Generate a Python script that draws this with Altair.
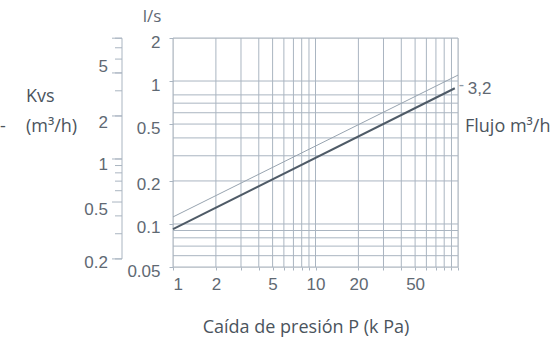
import altair as alt
import pandas as pd

# ---- data ----
thin_pressure = [1, 100]
thin_flow = [0.112, 1.10]
thick_pressure = [1, 95]
thick_flow = [0.092, 0.89]
thick_label = ["3,2"]

x_grid = [1, 2, 3, 4, 5, 6, 7, 8, 9, 10, 20, 30, 40, 50, 60, 70, 80, 90, 100]
x_label_values = [1, 2, 5, 10, 20, 50]
y_grid = [0.05, 0.06, 0.07, 0.08, 0.09, 0.1, 0.2, 0.3, 0.4, 0.5, 0.6, 0.7, 0.8, 1, 2]
y_label_values = [0.05, 0.1, 0.2, 0.5, 1, 2]
kvs_ticks = [0.2, 0.3, 0.4, 0.6, 0.7, 0.8, 0.9, 1, 2, 3, 4, 5, 6, 7]
kvs_major = [0.2, 0.5, 1, 2, 4, 7]
kvs_label_pos = [4.4, 1.8, 0.91, 0.44, 0.187]
kvs_label_text = ["5", "2", "1", "0.5", "0.2"]
kvs_in_ls = 0.2848  # l/s on the main scale that lines up with Kvs = 1

W, H = 285, 229
GRID = "#aab5c1"
NUM = "#5f6973"
WORD = "#4b545d"
NUMFONT = "Liberation Sans"
WORDFONT = "Open Sans"
NUMSIZE = 17
WORDSIZE = 18

xs = alt.Scale(type="log", domain=[1, 100], nice=False)
ys = alt.Scale(type="log", domain=[0.05, 2], nice=False)

x_axis = alt.Axis(
    values=x_grid, title=None, grid=False, domain=False,
    tickSize=3, tickColor=GRID, labelPadding=6,
    labelExpr="indexof(" + str(x_label_values) + ", datum.value) >= 0 ? '' + datum.value : ''",
    labelFont=NUMFONT, labelFontSize=NUMSIZE, labelColor=NUM,
)
y_axis = alt.Axis(
    values=y_label_values, title=None, grid=False, domain=False,
    tickSize=4, tickColor=GRID, labelPadding=9, labelOffset=4,
    labelExpr="'' + datum.value",
    labelFont=NUMFONT, labelFontSize=NUMSIZE, labelColor=NUM,
)

vgrid = alt.Chart(pd.DataFrame({"p": x_grid})).mark_rule(color=GRID, strokeWidth=1).encode(
    x=alt.X("p:Q", scale=xs, axis=x_axis)
)
hgrid = alt.Chart(pd.DataFrame({"q": y_grid})).mark_rule(color=GRID, strokeWidth=1).encode(
    y=alt.Y("q:Q", scale=ys, axis=y_axis)
)

thin = alt.Chart(pd.DataFrame({"p": thin_pressure, "q": thin_flow})).mark_line(
    color="#97a3af", strokeWidth=1
).encode(x=alt.X("p:Q", scale=xs), y=alt.Y("q:Q", scale=ys))

thick = alt.Chart(pd.DataFrame({"p": thick_pressure, "q": thick_flow})).mark_line(
    color="#4f5b67", strokeWidth=2
).encode(x=alt.X("p:Q", scale=xs), y=alt.Y("q:Q", scale=ys))

end_df = pd.DataFrame({"p": thick_pressure[-1:], "q": thick_flow[-1:], "t": thick_label})
leader = alt.Chart(end_df).mark_text(
    text="-", align="left", baseline="middle", dx=4, dy=-3, fontSize=16, font=NUMFONT, color="#8f9aa5"
).encode(x=alt.X("p:Q", scale=xs), y=alt.Y("q:Q", scale=ys))
endlabel = alt.Chart(end_df).mark_text(
    align="left", baseline="middle", dx=13, dy=1, fontSize=NUMSIZE, font=NUMFONT, color=NUM
).encode(x=alt.X("p:Q", scale=xs), y=alt.Y("q:Q", scale=ys), text="t:N")

# Kvs scale drawn on the same vertical scale (Kvs -> l/s alignment)
kvs_df = pd.DataFrame({"k": kvs_ticks})
kvs_tick_marks = alt.Chart(kvs_df).transform_calculate(q=f"datum.k * {kvs_in_ls}").mark_rule(
    color=GRID, strokeWidth=1
).encode(x=alt.value(-58), x2=alt.value(-51), y=alt.Y("q:Q", scale=ys))
kvs_major_marks = alt.Chart(pd.DataFrame({"k": kvs_major})).transform_calculate(
    q=f"datum.k * {kvs_in_ls}"
).mark_rule(color=GRID, strokeWidth=1).encode(
    x=alt.value(-61), x2=alt.value(-51), y=alt.Y("q:Q", scale=ys)
)
kvs_line = alt.Chart(pd.DataFrame({"lo": [min(kvs_ticks)], "hi": [max(kvs_ticks)]})).transform_calculate(
    qlo=f"datum.lo * {kvs_in_ls}", qhi=f"datum.hi * {kvs_in_ls}"
).mark_rule(color=GRID, strokeWidth=1).encode(
    x=alt.value(-51), y=alt.Y("qlo:Q", scale=ys), y2="qhi:Q"
)
kvs_labels = alt.Chart(pd.DataFrame({"k": kvs_label_pos, "t": kvs_label_text})).transform_calculate(
    q=f"datum.k * {kvs_in_ls}"
).mark_text(
    align="right", baseline="middle", fontSize=NUMSIZE, font=NUMFONT, color=NUM
).encode(x=alt.value(-65), y=alt.Y("q:Q", scale=ys), text="t:N")


def note(txt, x, y, align="left", size=WORDSIZE, color=WORD, font=WORDFONT):
    return alt.Chart(pd.DataFrame({"a": [0]})).mark_text(
        text=txt, align=align, baseline="middle", fontSize=size, font=font, color=color
    ).encode(x=alt.value(x), y=alt.value(y))


notes = (
    note("l/s", -21, -21, align="center", color=NUM, size=NUMSIZE)
    + note("Kvs", -147, 59)
    + note("(m³/h)", -147, 89)
    + note("-", -173, 89)
    + note("Flujo m³/h", 292, 89)
    + note("Caída de presión P (k Pa)", 133, 290, align="center")
)

chart = alt.layer(
    vgrid, hgrid, thin, thick, leader, endlabel,
    kvs_line, kvs_tick_marks, kvs_major_marks, kvs_labels, notes
).properties(
    width=W, height=H,
    autosize=alt.AutoSizeParams(type="none"),
    padding={"left": 173, "top": 38, "right": 96, "bottom": 71},
).configure_view(stroke=None).configure(background="white")

chart.save("out.html", embed_options={"renderer": "svg", "actions": False})
